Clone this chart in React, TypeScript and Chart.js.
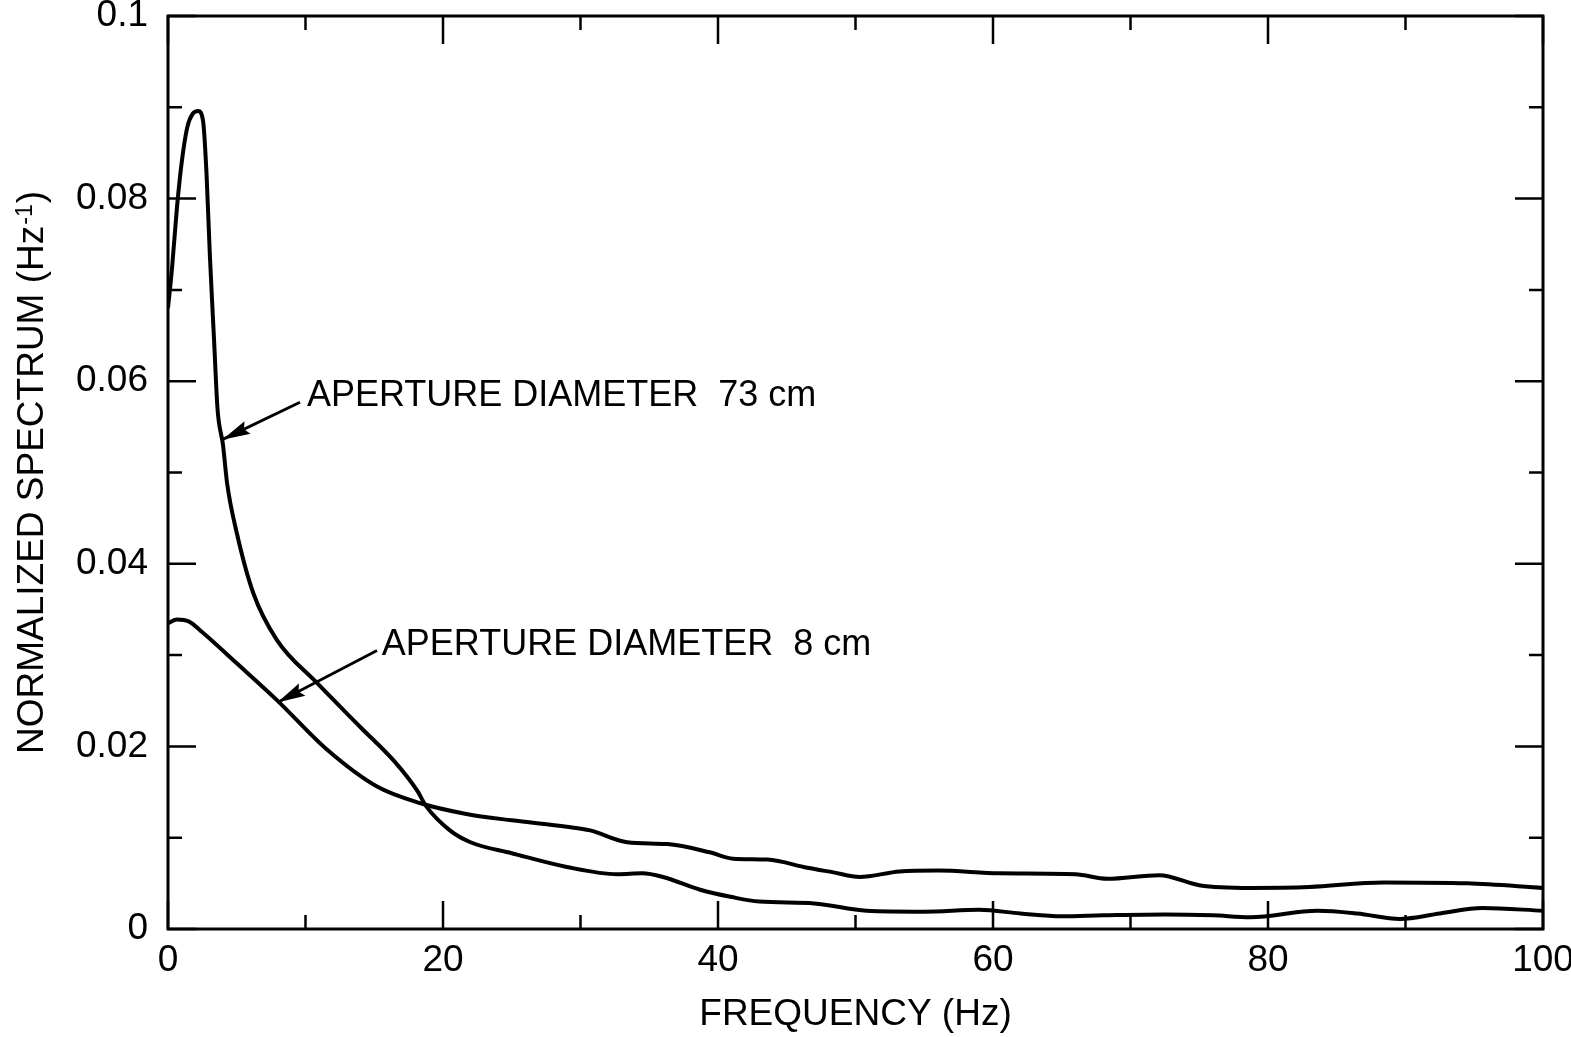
import React, { useEffect, useRef } from "react";
import { Chart, registerables } from "chart.js";

Chart.register(...registerables);

// ---- Data ----
const freq73 = [0, 0.3, 0.65, 1.0, 1.4, 1.8, 2.2, 2.55, 2.8, 3.05, 3.35, 3.6, 4.0, 4.3, 5.0, 6.2, 7.9, 10.8, 14.0, 16.5, 18.1, 18.8, 20.5, 22, 25, 29, 32.7, 34.5, 36, 38.7, 41, 43, 47, 50.8, 55, 59, 62, 65, 68, 72.5, 76, 78.7, 83.6, 86.5, 89.6, 92.5, 95.6, 100];
const spec73 = [0.068, 0.0725, 0.079, 0.084, 0.0878, 0.0893, 0.0896, 0.0885, 0.0828, 0.0736, 0.0645, 0.057, 0.053, 0.0488, 0.0434, 0.0368, 0.0317, 0.027, 0.0221, 0.0183, 0.0152, 0.0134, 0.0108, 0.0095, 0.0083, 0.0068, 0.006, 0.0061, 0.0057, 0.0043, 0.0035, 0.003, 0.0028, 0.002, 0.0019, 0.0021, 0.0017, 0.0014, 0.0015, 0.0016, 0.0015, 0.0013, 0.002, 0.0017, 0.0011, 0.0017, 0.0023, 0.002];

const freq8 = [0, 0.65, 1.5, 2.5, 5, 7.9, 11.6, 15.2, 18.3, 21.7, 25, 29, 30.7, 33.4, 36.3, 39.4, 41.1, 43.6, 46.5, 48.4, 50.3, 53.2, 56, 60.5, 66, 68.3, 72.1, 75, 78.7, 83, 88.4, 94.5, 100];
const spec8 = [0.0335, 0.0339, 0.0337, 0.0325, 0.0291, 0.0251, 0.0196, 0.0156, 0.0138, 0.0126, 0.0119, 0.0112, 0.0108, 0.0095, 0.0093, 0.0084, 0.0077, 0.0076, 0.0067, 0.0062, 0.0057, 0.0063, 0.0064, 0.0061, 0.006, 0.0055, 0.0059, 0.0048, 0.0045, 0.0046, 0.0051, 0.005, 0.0045];

const xTickValues = [0, 10, 20, 30, 40, 50, 60, 70, 80, 90, 100];
const xTickLabels = ["0", "20", "40", "60", "80", "100"];
const yTickValues = [0, 0.01, 0.02, 0.03, 0.04, 0.05, 0.06, 0.07, 0.08, 0.09, 0.1];
const yTickLabels = ["0", "0.02", "0.04", "0.06", "0.08", "0.1"];

const label73 = "APERTURE DIAMETER  73 cm";
const label8 = "APERTURE DIAMETER  8 cm";
const xTitle = "FREQUENCY (Hz)";
const yTitleMain = "NORMALIZED SPECTRUM (Hz";
const yTitleSup = "-1";
const yTitleEnd = ")";

const FONT = "'Liberation Sans', Arial, Helvetica, sans-serif";

function zip(xs: number[], ys: number[]) {
  return xs.map((x, i) => ({ x, y: ys[i] }));
}

const overlayPlugin = {
  id: "overlay",
  afterDraw(chart: any) {
    const { ctx, chartArea } = chart;
    const xs = chart.scales.x;
    const ys = chart.scales.y;
    const { left, right, top, bottom } = chartArea;
    ctx.save();
    ctx.strokeStyle = "#000";
    ctx.fillStyle = "#000";
    // frame
    ctx.lineWidth = 3;
    ctx.strokeRect(left, top, right - left, bottom - top);
    // inward ticks
    ctx.lineWidth = 2.5;
    xTickValues.forEach((v, i) => {
      const px = xs.getPixelForValue(v);
      const len = i % 2 === 0 ? 28 : 14;
      ctx.beginPath();
      ctx.moveTo(px, bottom);
      ctx.lineTo(px, bottom - len);
      ctx.moveTo(px, top);
      ctx.lineTo(px, top + len);
      ctx.stroke();
    });
    yTickValues.forEach((v, i) => {
      const py = ys.getPixelForValue(v);
      const len = i % 2 === 0 ? 28 : 14;
      ctx.beginPath();
      ctx.moveTo(left, py);
      ctx.lineTo(left + len, py);
      ctx.moveTo(right, py);
      ctx.lineTo(right - len, py);
      ctx.stroke();
    });

    // annotations
    const drawArrow = (x0: number, y0: number, x1: number, y1: number) => {
      const ax0 = xs.getPixelForValue(x0), ay0 = ys.getPixelForValue(y0);
      const ax1 = xs.getPixelForValue(x1), ay1 = ys.getPixelForValue(y1);
      ctx.lineWidth = 2.8;
      ctx.beginPath();
      ctx.moveTo(ax0, ay0);
      ctx.lineTo(ax1, ay1);
      ctx.stroke();
      const ang = Math.atan2(ay1 - ay0, ax1 - ax0);
      const L = 28, W = 7;
      const bx = ax1 - L * Math.cos(ang), by = ay1 - L * Math.sin(ang);
      ctx.beginPath();
      ctx.moveTo(ax1, ay1);
      ctx.lineTo(bx + W * Math.sin(ang), by - W * Math.cos(ang));
      ctx.lineTo(bx + 4 * Math.cos(ang), by + 4 * Math.sin(ang));
      ctx.lineTo(bx - W * Math.sin(ang), by + W * Math.cos(ang));
      ctx.closePath();
      ctx.fill();
    };
    ctx.font = `36px ${FONT}`;
    ctx.textAlign = "left";
    ctx.textBaseline = "middle";
    ctx.fillText(label73, xs.getPixelForValue(10.1), ys.getPixelForValue(0.0584));
    drawArrow(9.6, 0.0577, 3.95, 0.0536);
    ctx.fillText(label8, xs.getPixelForValue(15.55), ys.getPixelForValue(0.0311));
    drawArrow(15.2, 0.0305, 7.95, 0.0248);

    // y title with superscript
    const cy = (top + bottom) / 2;
    ctx.save();
    ctx.translate(30, cy);
    ctx.rotate(-Math.PI / 2);
    ctx.font = `37px ${FONT}`;
    const w1 = ctx.measureText(yTitleMain).width;
    const w3 = ctx.measureText(yTitleEnd).width;
    ctx.font = `23px ${FONT}`;
    const w2 = ctx.measureText(yTitleSup).width;
    const total = w1 + w2 + w3 + 2;
    let x = -total / 2;
    ctx.textAlign = "left";
    ctx.textBaseline = "alphabetic";
    ctx.font = `37px ${FONT}`;
    ctx.fillText(yTitleMain, x, 13);
    x += w1 + 1;
    ctx.font = `23px ${FONT}`;
    ctx.fillText(yTitleSup, x, 2);
    x += w2 + 1;
    ctx.font = `37px ${FONT}`;
    ctx.fillText(yTitleEnd, x, 13);
    ctx.restore();

    ctx.restore();
  },
};

export default function App() {
  const ref = useRef<HTMLCanvasElement | null>(null);
  useEffect(() => {
    if (!ref.current) return;
    Chart.defaults.font.family = FONT;
    Chart.defaults.color = "#000";
    const chart = new Chart(ref.current, {
      type: "line",
      data: {
        datasets: [
          {
            label: label73,
            data: zip(freq73, spec73),
            borderColor: "#000",
            borderWidth: 4,
            pointRadius: 0,
            fill: false,
            cubicInterpolationMode: "monotone",
          },
          {
            label: label8,
            data: zip(freq8, spec8),
            borderColor: "#000",
            borderWidth: 4,
            pointRadius: 0,
            fill: false,
            cubicInterpolationMode: "monotone",
          },
        ],
      },
      options: {
        animation: false,
        responsive: false,
        maintainAspectRatio: false,
        devicePixelRatio: 1,
        layout: { padding: { top: 16, right: 28, left: 0, bottom: 0 } },
        plugins: { legend: { display: false }, tooltip: { enabled: false } },
        scales: {
          x: {
            type: "linear",
            min: 0,
            max: 100,
            grid: { display: false, drawTicks: false },
            border: { display: false },
            ticks: {
              stepSize: 10,
              autoSkip: false,
              maxRotation: 0,
              padding: 10,
              color: "#000",
              font: { size: 37, family: FONT },
              callback: (v: any) => {
                const n = Math.round(Number(v));
                return n % 20 === 0 ? xTickLabels[n / 20] : "";
              },
            },
            title: {
              display: true,
              text: xTitle,
              color: "#000",
              font: { size: 37, family: FONT },
              padding: { top: 0, bottom: 0 },
            },
            afterFit: (s: any) => {
              s.height = 108;
              s.paddingLeft = 0;
              s.paddingRight = 0;
              s.paddingTop = 0;
              s.paddingBottom = 0;
            },
          },
          y: {
            type: "linear",
            min: 0,
            max: 0.1,
            grid: { display: false, drawTicks: false },
            border: { display: false },
            ticks: {
              stepSize: 0.01,
              autoSkip: false,
              padding: 20,
              color: "#000",
              font: { size: 37, family: FONT },
              callback: (v: any) => {
                const k = Math.round(Number(v) * 100);
                return k % 2 === 0 ? yTickLabels[k / 2] : "";
              },
            },
            afterFit: (s: any) => {
              s.width = 168;
              s.paddingLeft = 0;
              s.paddingRight = 0;
              s.paddingTop = 0;
              s.paddingBottom = 0;
            },
          },
        },
      },
      plugins: [overlayPlugin],
    } as any);
    return () => chart.destroy();
  }, []);
  return (
    <div style={{ position: "fixed", left: 0, top: 0, width: 1571, height: 1037, background: "#fff" }}>
      <canvas ref={ref} width={1571} height={1037} style={{ display: "block" }} />
    </div>
  );
}
